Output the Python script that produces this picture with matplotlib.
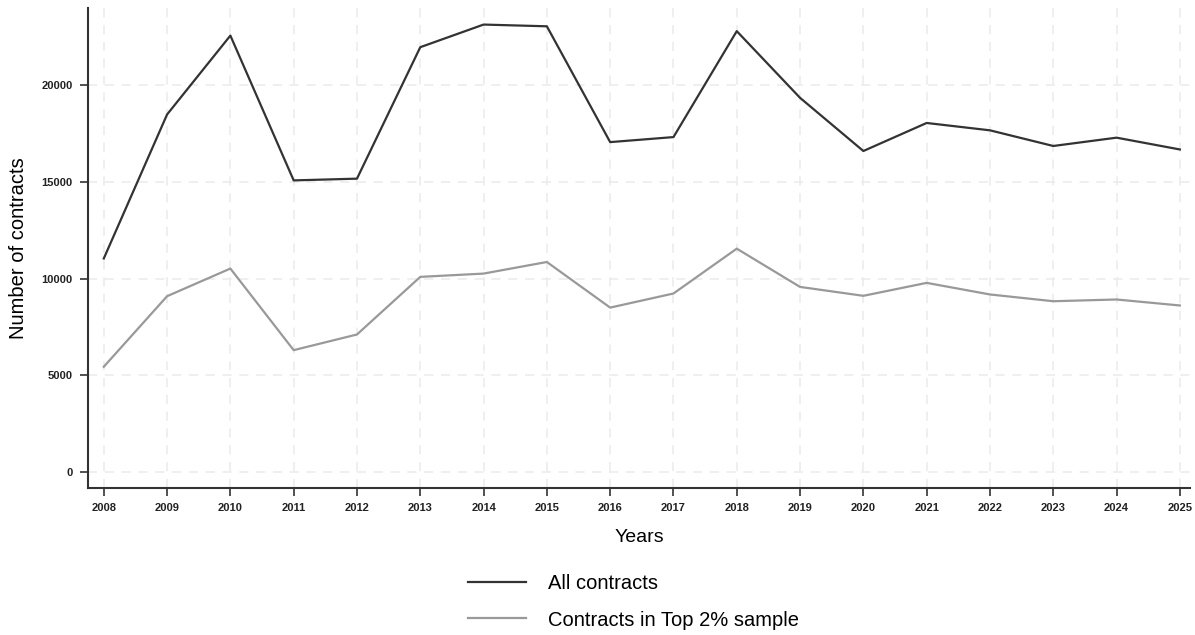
import numpy as np
import pandas as pd
import matplotlib
matplotlib.use('Agg')
import matplotlib.pyplot as plt

plt.rcParams['font.family'] = ['Liberation Sans', 'DejaVu Sans']

years = list(range(2008, 2026))
all_contracts = [11040, 18490, 22570, 15080, 15170, 21970, 23140, 23050, 17060,
                 17320, 22800, 19350, 16600, 18050, 17670, 16860, 17290, 16680]
top2_contracts = [5440, 9090, 10520, 6300, 7110, 10090, 10260, 10860, 8500,
                  9230, 11550, 9570, 9110, 9780, 9180, 8830, 8920, 8610]
y_ticks = [0, 5000, 10000, 15000, 20000]

df = pd.DataFrame({'Years': years, 'All contracts': all_contracts,
                   'Contracts in Top 2% sample': top2_contracts})

fig = plt.figure(figsize=(11.95, 6.35), dpi=100)
ax = fig.add_axes([0.0736, 0.2315, 0.9222, 0.756])

ax.plot(df['Years'], df['All contracts'], color='#333333', lw=1.6, label='All contracts')
ax.plot(df['Years'], df['Contracts in Top 2% sample'], color='#999999', lw=1.6,
        label='Contracts in Top 2% sample')

ax.set_xlim(2007.75, 2025.16)
ax.set_ylim(-830, 24000)
ax.set_xticks(years)
ax.set_yticks(y_ticks)
ax.tick_params(axis='both', direction='out', length=6, width=1.2, color='#333333',
               labelsize=8, pad=5)
for lab in ax.get_xticklabels() + ax.get_yticklabels():
    lab.set_fontweight('bold')
    lab.set_color('#222222')

ax.grid(True, color='#ebebeb', linestyle=(0, (6, 5)), linewidth=1.1)
ax.set_axisbelow(True)
for side in ['top', 'right']:
    ax.spines[side].set_visible(False)
for side in ['left', 'bottom']:
    ax.spines[side].set_color('#333333')
    ax.spines[side].set_linewidth(1.5)

ax.set_xlabel('Years', fontsize=14, labelpad=11)
ax.set_ylabel('Number of contracts', fontsize=14.5, labelpad=10)

fig.legend(loc='center', bbox_to_anchor=(0.53, 0.052), ncol=1, frameon=False,
           fontsize=14.5, handlelength=2.9, handletextpad=1.1, labelspacing=0.85)

plt.savefig('out.png', dpi=100)
